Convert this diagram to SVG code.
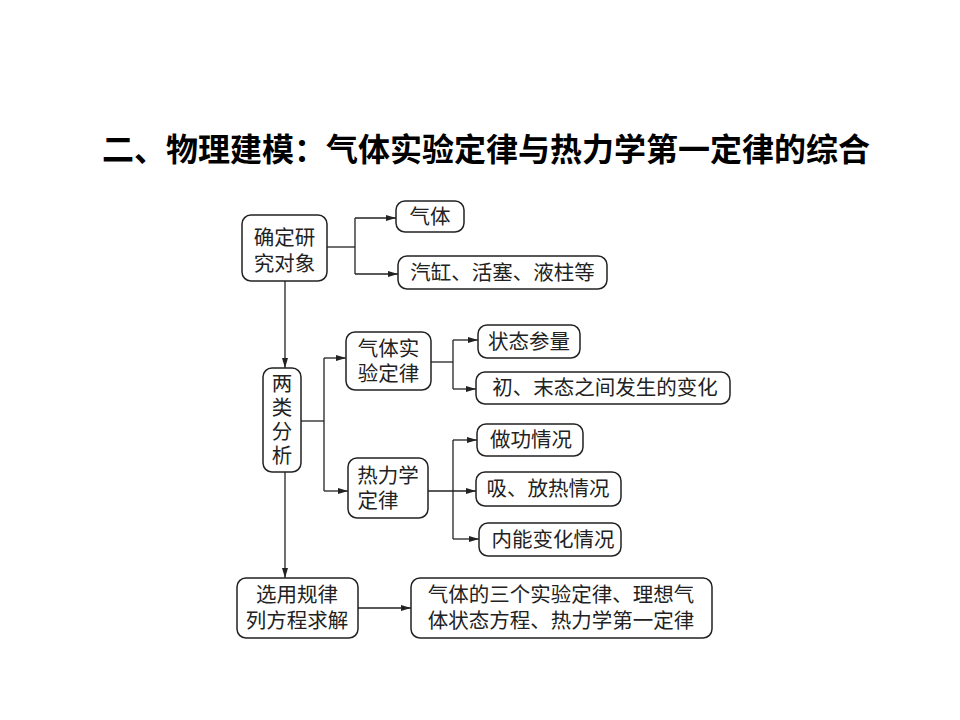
<svg xmlns="http://www.w3.org/2000/svg" width="960" height="720" viewBox="0 0 960 720">
<defs>
<style>
.box{fill:#fff;stroke:#222;stroke-width:1.5}
.t{font-family:"Liberation Serif","Noto Sans CJK SC",serif;font-size:20.5px;fill:#222;text-anchor:middle;dominant-baseline:central}
.title{font-family:"Liberation Sans","Noto Sans CJK SC",sans-serif;font-size:32px;font-weight:bold;fill:#000;text-anchor:middle}
.c{fill:none;stroke:#222;stroke-width:1.3}
</style>
<marker id="a" viewBox="0 0 10 6" refX="10" refY="3" markerWidth="10" markerHeight="6" markerUnits="userSpaceOnUse" orient="auto">
<path d="M0,0 L10,3 L0,6 Z" fill="#222"/>
</marker>
</defs>
<rect width="960" height="720" fill="#fff"/>
<text class="title" x="486" y="161">二、物理建模：气体实验定律与热力学第一定律的综合</text>

<g id="connectors">
<path class="c" d="M327,247 H355"/>
<path class="c" d="M355,218 V274"/>
<path class="c" d="M355,218 H396" marker-end="url(#a)"/>
<path class="c" d="M355,274 H398" marker-end="url(#a)"/>
<path class="c" d="M285,281 V368" marker-end="url(#a)"/>
<path class="c" d="M301,421 H324"/>
<path class="c" d="M324,358 V491"/>
<path class="c" d="M324,358 H346" marker-end="url(#a)"/>
<path class="c" d="M324,491 H348" marker-end="url(#a)"/>
<path class="c" d="M431,362 H453"/>
<path class="c" d="M453,340 V389"/>
<path class="c" d="M453,340 H478" marker-end="url(#a)"/>
<path class="c" d="M453,389 H476" marker-end="url(#a)"/>
<path class="c" d="M428,491 H476" marker-end="url(#a)"/>
<path class="c" d="M453,440 V539"/>
<path class="c" d="M453,440 H477" marker-end="url(#a)"/>
<path class="c" d="M453,539 H479" marker-end="url(#a)"/>
<path class="c" d="M285,472 V578" marker-end="url(#a)"/>
<path class="c" d="M358,608 H411" marker-end="url(#a)"/>
</g>

<g id="n1">
<rect class="box" x="242" y="215" width="85" height="66" rx="9"/>
<text class="t" x="284.5" y="238">确定研</text>
<text class="t" x="284.5" y="264">究对象</text>
</g>
<g id="n2">
<rect class="box" x="396" y="201" width="68" height="31" rx="9"/>
<text class="t" x="430" y="216.5">气体</text>
</g>
<g id="n3">
<rect class="box" x="398" y="256" width="209" height="33" rx="9"/>
<text class="t" x="502.5" y="272.5">汽缸、活塞、液柱等</text>
</g>
<g id="n4">
<rect class="box" x="263" y="368" width="38" height="104" rx="9"/>
<text class="t" x="282" y="384">两</text>
<text class="t" x="282" y="408">类</text>
<text class="t" x="282" y="432">分</text>
<text class="t" x="282" y="456">析</text>
</g>
<g id="n5">
<rect class="box" x="346" y="332" width="85" height="58" rx="9"/>
<text class="t" x="388.5" y="349">气体实</text>
<text class="t" x="388.5" y="374">验定律</text>
</g>
<g id="n6">
<rect class="box" x="348" y="458" width="80" height="60" rx="9"/>
<text class="t" x="388" y="476">热力学</text>
<text class="t" x="378" y="501">定律</text>
</g>
<g id="n7">
<rect class="box" x="478" y="325" width="102" height="33" rx="9"/>
<text class="t" x="529" y="341.5">状态参量</text>
</g>
<g id="n8">
<rect class="box" x="476" y="372" width="254" height="32" rx="9"/>
<text class="t" x="605" y="388">初、末态之间发生的变化</text>
</g>
<g id="n9">
<rect class="box" x="477" y="424" width="106" height="32" rx="9"/>
<text class="t" x="531" y="440">做功情况</text>
</g>
<g id="n10">
<rect class="box" x="476" y="472" width="145" height="34" rx="9"/>
<text class="t" x="548" y="489">吸、放热情况</text>
</g>
<g id="n11">
<rect class="box" x="479" y="523" width="142" height="33" rx="9"/>
<text class="t" x="553" y="539.5">内能变化情况</text>
</g>
<g id="n12">
<rect class="box" x="237" y="578" width="121" height="60" rx="9"/>
<text class="t" x="297" y="595">选用规律</text>
<text class="t" x="297" y="621">列方程求解</text>
</g>
<g id="n13">
<rect class="box" x="411" y="578" width="301" height="60" rx="9"/>
<text class="t" x="561" y="595">气体的三个实验定律、理想气</text>
<text class="t" x="561" y="621">体状态方程、热力学第一定律</text>
</g>
</svg>
